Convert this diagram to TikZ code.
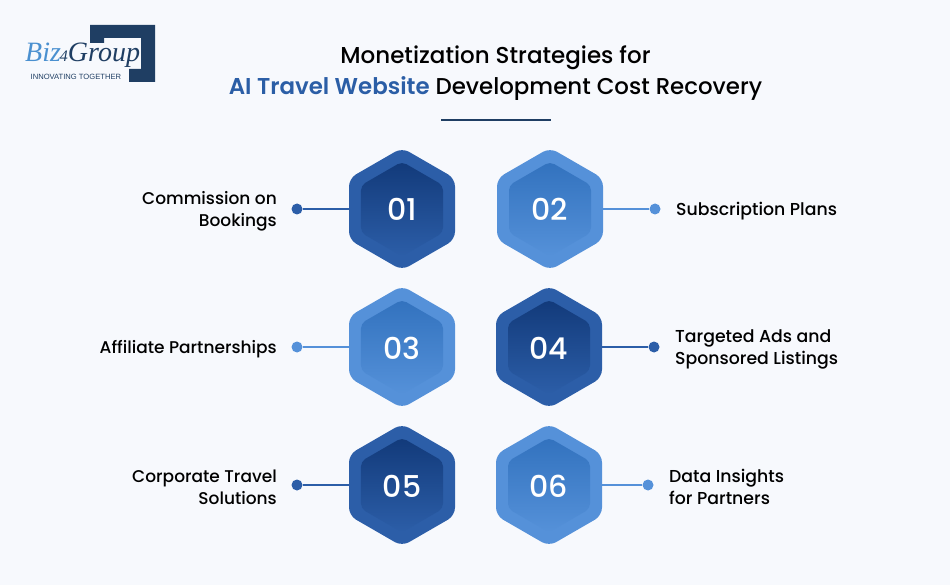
\documentclass[tikz,border=0pt]{standalone}
\usepackage{fontspec}
\setmainfont{Poppins}[UprightFont=* Medium,BoldFont=* SemiBold]
\newfontfamily\logofont{Liberation Serif}
\newfontfamily\taglinefont{Liberation Sans}
\usetikzlibrary{shapes.geometric}

\definecolor{pagebg}{HTML}{F7F9FD}
\definecolor{navy}{HTML}{1F3E63}
\definecolor{darkblue}{HTML}{2C5EA8}
\definecolor{darktop}{HTML}{123A7A}
\definecolor{lightblue}{HTML}{5591D9}
\definecolor{lighttop}{HTML}{3272BE}
\definecolor{titleblue}{HTML}{2B5EA6}
\definecolor{logoblue}{HTML}{4A90D0}

\tikzset{
  hexa/.style={regular polygon, regular polygon sides=6, shape border rotate=30,
    inner sep=0pt, outer sep=0pt},
  hexouter/.style={hexa, rounded corners=8pt, minimum size=122.4pt, fill=#1},
  hexinner/.style={hexa, rounded corners=5pt, minimum size=94.7pt, top color=#1, text=white,
    text height=24pt, text depth=0pt, font=\fontsize{30}{30}\selectfont},
  hexdark/.style={hexinner=darktop, bottom color=darkblue},
  hexlight/.style={hexinner=lighttop, bottom color=lightblue},
  dotnode/.style={circle, fill=#1, minimum size=11pt, inner sep=0pt},
  linkline/.style={draw=#1, line width=1.5pt},
  labelleft/.style={anchor=east, align=right, inner sep=0pt, font=\fontsize{17}{22}\selectfont, text=black},
  labelright/.style={anchor=west, align=left, inner sep=0pt, font=\fontsize{17.3}{22}\selectfont, text=black},
}

\begin{document}
\begin{tikzpicture}[x=1pt, y=-1pt]
\useasboundingbox[fill=pagebg] (0,0) rectangle (950,585);

% logo
\fill[navy] (90,25) -- (155,25) -- (155,82) -- (129,82) -- (129,69) -- (141,69) -- (141,38) -- (104,38) -- (104,43) -- (90,43) -- cycle;
\node[anchor=west, inner sep=0pt] (logo) at (25,55) {\logofont\itshape\fontsize{28}{28}\selectfont\textcolor{logoblue}{Biz}\kern-1pt\textcolor{navy}{\fontsize{16}{16}\selectfont 4}\textcolor{navy}{Group}};
\node[anchor=west, inner sep=0pt, text=navy] (tagline) at (30.5,76.5) {\taglinefont\fontsize{7.6}{8}\selectfont INNOVATING TOGETHER};

% title
\node[font=\fontsize{23}{23}\selectfont, text=black] (title1) at (495.5,58) {Monetization Strategies for};
\node[font=\fontsize{22.9}{23}\selectfont, text=black] (title2) at (495.5,89) {\textcolor{titleblue}{\bfseries AI Travel Website} Development Cost Recovery};
\coordinate (ruleL) at (441,120);
\coordinate (ruleR) at (551,120);
\draw[navy, line width=1.2pt] (ruleL) -- (ruleR);

% connectors and dots
\node[dotnode=darkblue] (dot1) at (297,209) {};
\node[dotnode=lightblue] (dot2) at (655,209) {};
\node[dotnode=lightblue] (dot3) at (297,347) {};
\node[dotnode=darkblue] (dot4) at (654,347) {};
\node[dotnode=darkblue] (dot5) at (297,485) {};
\node[dotnode=lightblue] (dot6) at (648,485) {};

% hexagons
\node[hexouter=darkblue] (hex1) at (402,209) {};
\node[hexdark] (num1) at (402,209) {01};
\node[hexouter=lightblue] (hex2) at (550,209) {};
\node[hexlight] (num2) at (550,209) {02};
\node[hexouter=lightblue] (hex3) at (402,347) {};
\node[hexlight] (num3) at (402,347) {03};
\node[hexouter=darkblue] (hex4) at (549,347) {};
\node[hexdark] (num4) at (549,347) {04};
\node[hexouter=darkblue] (hex5) at (402,485) {};
\node[hexdark] (num5) at (402,485) {05};
\node[hexouter=lightblue] (hex6) at (549,485) {};
\node[hexlight] (num6) at (549,485) {06};

\draw[linkline=darkblue] (dot1) -- (hex1);
\draw[linkline=lightblue] (dot2) -- (hex2);
\draw[linkline=lightblue] (dot3) -- (hex3);
\draw[linkline=darkblue] (dot4) -- (hex4);
\draw[linkline=darkblue] (dot5) -- (hex5);
\draw[linkline=lightblue] (dot6) -- (hex6);

% labels
\node[labelleft] (lab1) at (277,211) {Commission on\\Bookings};
\node[labelright] (lab2) at (676,211) {Subscription Plans};
\node[labelleft] (lab3) at (277,349) {Affiliate Partnerships};
\node[labelright] (lab4) at (675,349) {Targeted Ads and\\Sponsored Listings};
\node[labelleft] (lab5) at (277,487) {Corporate Travel\\Solutions};
\node[labelright] (lab6) at (669,487) {Data Insights\\for Partners};
\end{tikzpicture}
\end{document}
